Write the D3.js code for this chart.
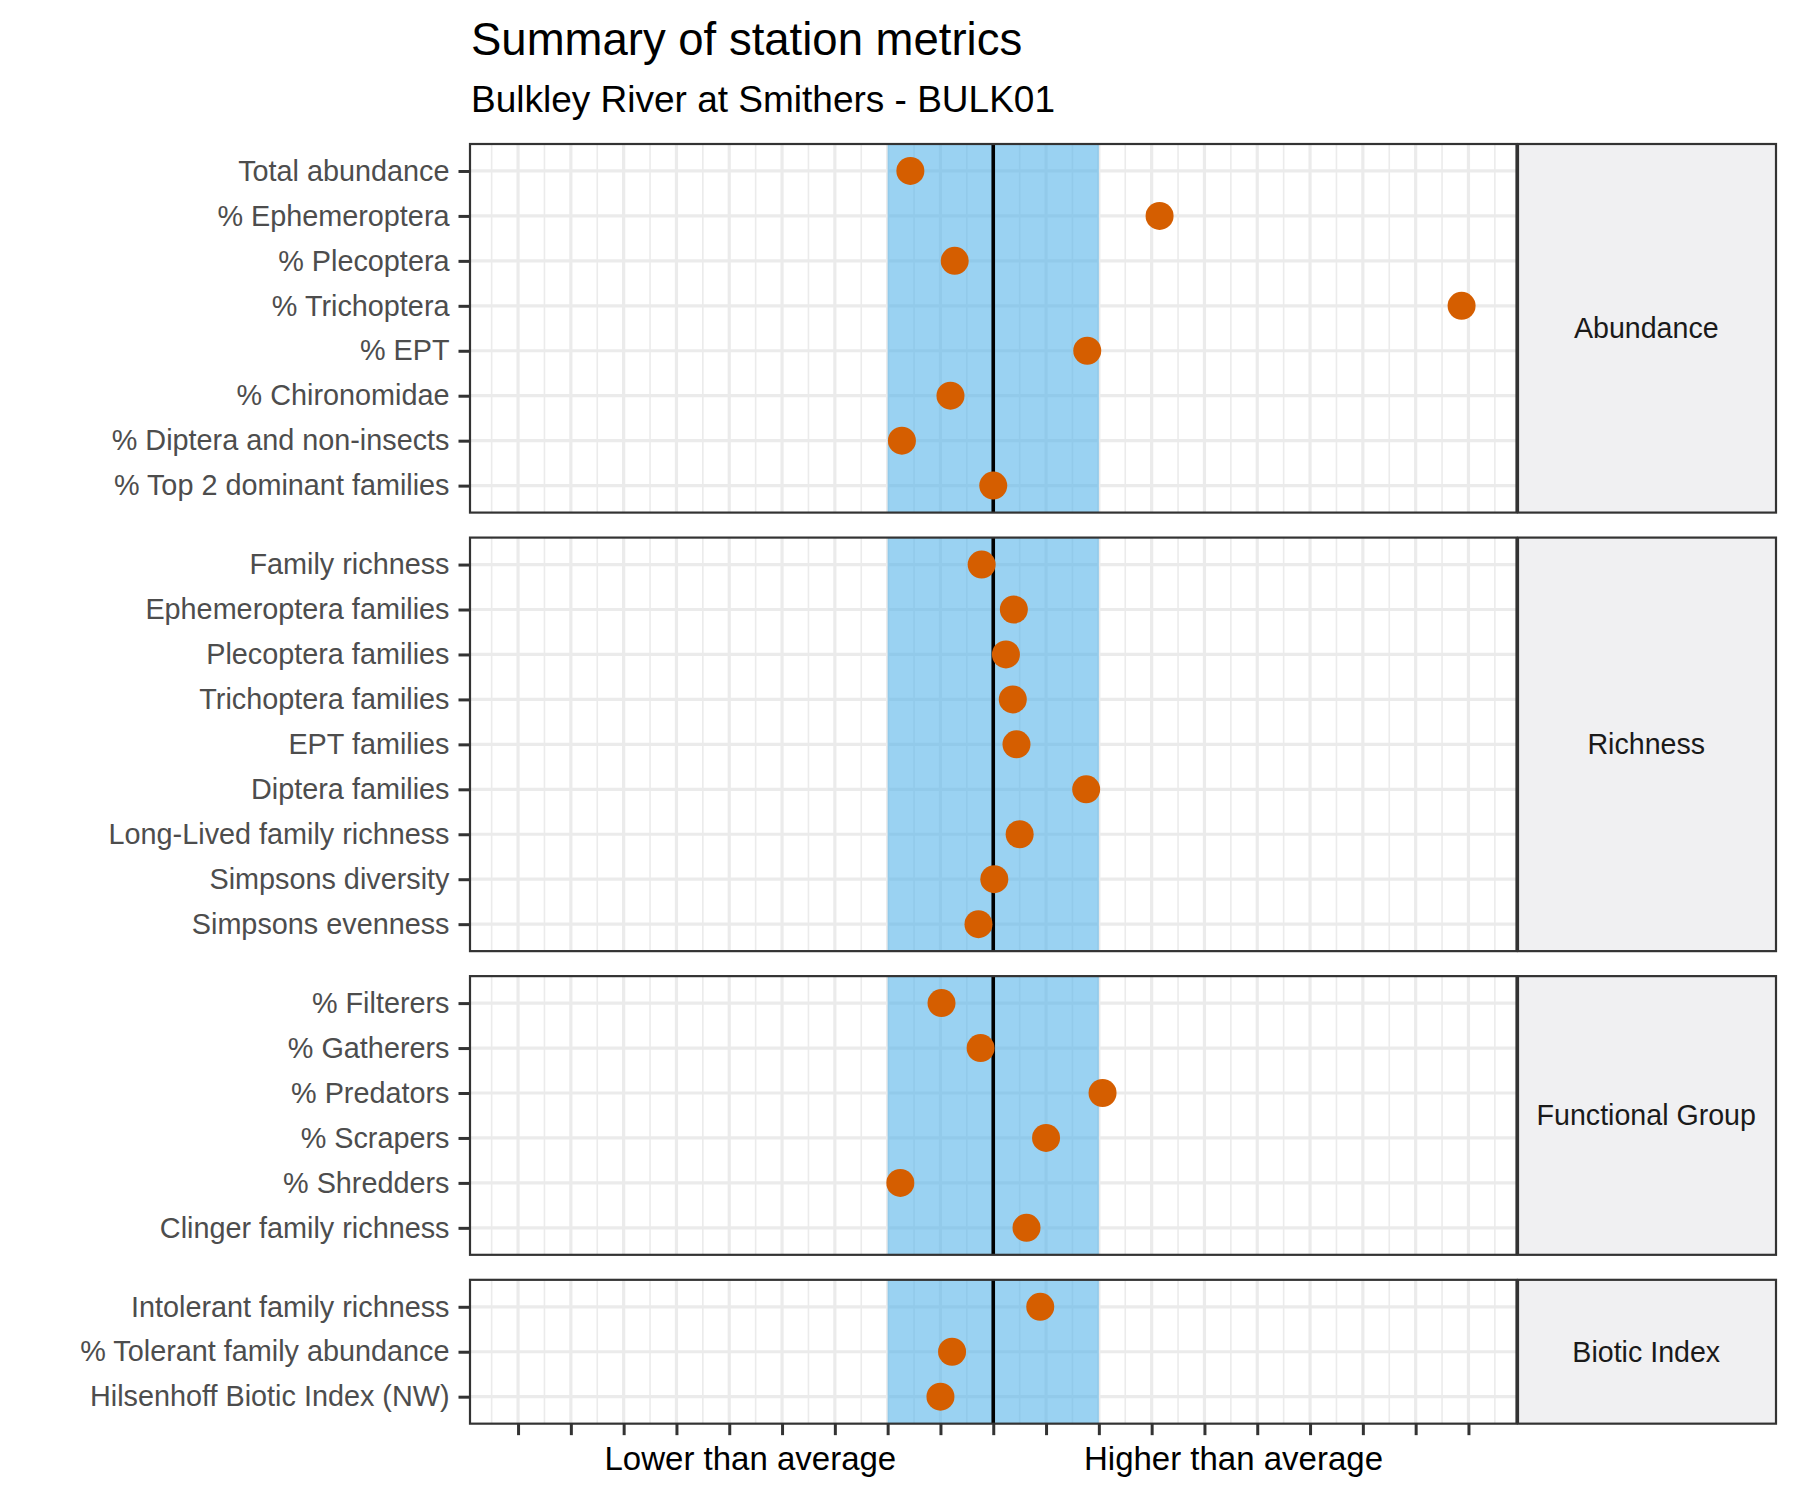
<!DOCTYPE html>
<html>
<head>
<meta charset="utf-8">
<script src="https://cdnjs.cloudflare.com/ajax/libs/d3/7.8.5/d3.min.js"></script>
<style>
  body { margin: 0; background: #ffffff; }
  text { font-family: "Liberation Sans", Arial, Helvetica, sans-serif; }
</style>
</head>
<body>
<script>
// Sets width and height of SVG object
var w = 1800;
var h = 1500;

var groups = ["Abundance", "Richness", "Functional Group", "Biotic Index"];

var abundanceMetrics = ["Total abundance", "% Ephemeroptera", "% Plecoptera", "% Trichoptera",
  "% EPT", "% Chironomidae", "% Diptera and non-insects", "% Top 2 dominant families"];
var abundanceValues = [-1.57, 3.15, -0.73, 8.87, 1.78, -0.81, -1.73, 0.0];

var richnessMetrics = ["Family richness", "Ephemeroptera families", "Plecoptera families",
  "Trichoptera families", "EPT families", "Diptera families", "Long-Lived family richness",
  "Simpsons diversity", "Simpsons evenness"];
var richnessValues = [-0.22, 0.39, 0.24, 0.37, 0.44, 1.76, 0.50, 0.02, -0.28];

var functionalMetrics = ["% Filterers", "% Gatherers", "% Predators", "% Scrapers",
  "% Shredders", "Clinger family richness"];
var functionalValues = [-0.98, -0.24, 2.07, 1.00, -1.76, 0.63];

var bioticMetrics = ["Intolerant family richness", "% Tolerant family abundance",
  "Hilsenhoff Biotic Index (NW)"];
var bioticValues = [0.89, -0.78, -1.00];

var xTicks = [-9, -8, -7, -6, -5, -4, -3, -2, -1, 0, 1, 2, 3, 4, 5, 6, 7, 8, 9];
var xMinor = [-9.5, -8.5, -7.5, -6.5, -5.5, -4.5, -3.5, -2.5, -1.5, -0.5,
  0.5, 1.5, 2.5, 3.5, 4.5, 5.5, 6.5, 7.5, 8.5, 9.5];
var xLabels = ["Lower than average", "Higher than average"];
var xLabelPos = [-4.6, 4.55];
var averageBand = [-2, 2];

var panelMetrics = [abundanceMetrics, richnessMetrics, functionalMetrics, bioticMetrics];
var panelValues = [abundanceValues, richnessValues, functionalValues, bioticValues];

var left = 470, right = 1516.5, stripW = 259.5;
var top0 = 144, unit = 44.95, gap = 25;

var svg = d3.select("body").append("svg").attr("width", w).attr("height", h);

svg.append("text").attr("x", 471).attr("y", 55)
  .attr("font-size", 45.5).attr("fill", "#000").text("Summary of station metrics");
svg.append("text").attr("x", 471).attr("y", 112)
  .attr("font-size", 37).attr("fill", "#000").text("Bulkley River at Smithers - BULK01");

var x = d3.scaleLinear().domain([-9.91, 9.91]).range([left, right]);

var y0 = top0;
var lastBottom = 0;
panelMetrics.forEach(function(metrics, p) {
  var ph = (metrics.length + 0.2) * unit;
  var y = d3.scalePoint().domain(metrics).range([y0, y0 + ph]).padding(0.6);
  var g = svg.append("g");
  var data = metrics.map(function(m, i) { return { metric: m, value: panelValues[p][i] }; });

  g.append("rect").attr("x", left).attr("y", y0).attr("width", right - left).attr("height", ph)
    .attr("fill", "#fff");

  // gridlines
  g.selectAll(".minor").data(xMinor).enter().append("line")
    .attr("x1", function(d){ return x(d); }).attr("x2", function(d){ return x(d); })
    .attr("y1", y0).attr("y2", y0 + ph)
    .attr("stroke", "#ebebeb").attr("stroke-width", 1.6);
  g.selectAll(".major").data(xTicks).enter().append("line")
    .attr("x1", function(d){ return x(d); }).attr("x2", function(d){ return x(d); })
    .attr("y1", y0).attr("y2", y0 + ph)
    .attr("stroke", "#ebebeb").attr("stroke-width", 3.2);
  g.selectAll(".hgrid").data(metrics).enter().append("line")
    .attr("x1", left).attr("x2", right)
    .attr("y1", function(d){ return y(d); }).attr("y2", function(d){ return y(d); })
    .attr("stroke", "#ebebeb").attr("stroke-width", 3.2);

  // the average band
  g.append("rect").attr("x", x(averageBand[0])).attr("y", y0)
    .attr("width", x(averageBand[1]) - x(averageBand[0])).attr("height", ph)
    .attr("fill", "#56B4E9").attr("opacity", 0.6);
  g.append("line").attr("x1", x(0)).attr("x2", x(0)).attr("y1", y0).attr("y2", y0 + ph)
    .attr("stroke", "#000").attr("stroke-width", 3.6);

  g.selectAll("circle").data(data).enter().append("circle")
    .attr("cx", function(d){ return x(d.value); })
    .attr("cy", function(d){ return y(d.metric); })
    .attr("r", 14).attr("fill", "#D55E00");

  // y axis
  var yAxis = d3.axisLeft(y).tickSize(11.5).tickPadding(9);
  var ya = g.append("g").attr("transform", "translate(" + left + ",0)").call(yAxis);
  ya.select(".domain").remove();
  ya.selectAll(".tick line").attr("stroke", "#333").attr("stroke-width", 3);
  ya.selectAll(".tick text").attr("font-size", 28.8).attr("fill", "#4d4d4d")
    .attr("font-family", "'Liberation Sans', Arial, sans-serif");

  g.append("rect").attr("x", left).attr("y", y0).attr("width", right - left).attr("height", ph)
    .attr("fill", "none").attr("stroke", "#333").attr("stroke-width", 2.2);

  // strip
  g.append("rect").attr("x", right + 1.5).attr("y", y0).attr("width", stripW - 1.5).attr("height", ph)
    .attr("fill", "#f0f0f2").attr("stroke", "#333").attr("stroke-width", 2.2);
  g.append("text").attr("x", right + stripW / 2).attr("y", y0 + ph / 2)
    .attr("dy", "0.35em").attr("text-anchor", "middle")
    .attr("font-size", 28.6).attr("fill", "#1a1a1a").text(groups[p]);

  lastBottom = y0 + ph;
  y0 = y0 + ph + gap;
});

// x axis: ticks only, with two text labels
var xAxis = d3.axisBottom(x).tickValues(xTicks).tickSize(11.5).tickFormat("");
var xa = svg.append("g").attr("transform", "translate(0," + lastBottom + ")").call(xAxis);
xa.select(".domain").remove();
xa.selectAll(".tick line").attr("stroke", "#333").attr("stroke-width", 3);

svg.selectAll(".xlab").data(xLabels).enter().append("text")
  .attr("x", function(d, i){ return x(xLabelPos[i]); })
  .attr("y", 1470).attr("text-anchor", "middle")
  .attr("font-size", 33).attr("fill", "#000").text(function(d){ return d; });
</script>
</body>
</html>
